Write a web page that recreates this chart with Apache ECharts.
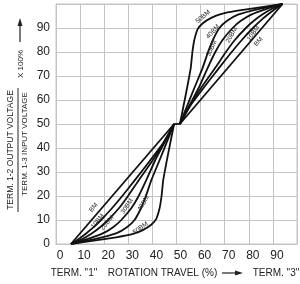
<!DOCTYPE html>
<html><head><meta charset="utf-8">
<script src="https://cdn.jsdelivr.net/npm/echarts@6/dist/echarts.min.js"></script>
<style>html,body{margin:0;padding:0;background:#fff}#c{width:300px;height:284px}</style>
</head><body><div id="c"></div>
<script>
// Taper names
const tapers = ['BM', '10BM', '20BM', '30BM', '40BM', '50BM'];
// Lower half (term 1 side) curves: [rotation %, output %]
const lowBM   = [[6.2,0],[49,50]];
const low10BM = [[6.2,0],[9.3,2],[12.5,4.4],[15.6,7],[18.7,10],[23.3,15],[27.5,20],[32.8,26.7],[39.2,35],[44.4,42],[49,50]];
const low20BM = [[6.2,0],[10.8,2],[14.8,4.4],[18.3,7],[21.6,10],[26.2,15],[29.9,20],[34.4,26.7],[40.2,35],[44.7,42],[49,50]];
const low30BM = [[6.2,0],[13,2],[19.4,4.4],[23.7,7],[27.1,10],[31.3,15],[34.3,20],[37.5,26.7],[41.2,35],[44.9,42],[49,50]];
const low40BM = [[6.2,0],[16,2],[24.9,4.4],[29.4,7],[32.6,10],[35.3,15],[37.3,20],[39.6,26.7],[43,35],[45.8,42],[49,50]];
const low50BM = [[6.2,0],[15,1.3],[25,2.8],[32,4.2],[36,5.8],[39.5,8],[41.6,10.5],[43,15],[43.8,20],[44.5,26.7],[46.6,38],[49,50]];
// Centre flat
const centre = [[49,50],[51.4,50]];
// Upper half (term 3 side) curves
const upBM   = [[51.4,50],[94,100]];
const up10BM = [[51.4,50],[56,58],[61.2,65],[67.6,73.3],[72.9,80],[77.1,85],[81.7,90],[84.8,93],[87.9,95.6],[91.1,98],[94,100]];
const up20BM = [[51.4,50],[55.7,58],[60.2,65],[66,73.3],[70.5,80],[74.2,85],[78.8,90],[82.1,93],[85.6,95.6],[89.6,98],[94,100]];
const up30BM = [[51.4,50],[55.5,58],[59.2,65],[62.9,73.3],[66.1,80],[69.1,85],[73.3,90],[76.7,93],[81,95.6],[87.4,98],[94,100]];
const up40BM = [[51.4,50],[54.6,58],[57.4,65],[60.8,73.3],[63.1,80],[65.1,85],[67.8,90],[71,93],[75.5,95.6],[84.4,98],[94,100]];
const up50BM = [[51.4,50],[53.8,62],[55.9,73.3],[56.6,80],[57.4,85],[58.8,89.5],[60.9,92],[64.4,94.2],[68.4,95.8],[75.4,97.2],[85.4,98.7],[94,100]];
// Tick labels
const xTickLabels = ['0','10','20','30','40','50','60','70','80','90'];
const yTickLabels = ['0','10','20','30','40','50','60','70','80','90'];
// Curve label anchor points (data coords)
const lowLabelPos = [[15.6,15.2],[17.3,9.5],[21.2,8.8],[29.5,15.7],[36.3,17],[35,6.6]];
const upLabelPos  = [[84,84.3],[81.9,87.8],[72.9,87.1],[64.6,81.5],[65.1,88.5],[61,94.7]];

const lowSets = [lowBM, low10BM, low20BM, low30BM, low40BM, low50BM];
const upSets = [upBM, up10BM, up20BM, up30BM, up40BM, up50BM];
const lowAngle = [49, 50, 50, 55, 60, 35];
const upAngle = [49, 55, 60, 65, 48, 40];

const FONT = '"Liberation Sans", Arial, Helvetica, sans-serif';
const GRID = '#c4c4c4';
const chart = echarts.init(document.getElementById('c'), null, {renderer: 'canvas'});

const series = [];
const lineStyle = {color: '#111', width: 1.8, join: 'round'};
const mk = (d, name) => ({type: 'line', name, data: d, smooth: 0.15, showSymbol: false, symbol: 'none', lineStyle, silent: true});
lowSets.forEach((d, i) => series.push(mk(d, tapers[i] + ' low')));
upSets.forEach((d, i) => series.push(mk(d, tapers[i] + ' up')));
series.push({type: 'line', data: centre, symbol: 'none', lineStyle, silent: true});

chart.setOption({
  animation: false,
  backgroundColor: '#fff',
  grid: {left: 56, top: 4, width: 241, height: 240, show: true, borderColor: GRID, borderWidth: 1},
  xAxis: {
    type: 'value', min: 0, max: 100, interval: 10,
    axisLine: {show: true, lineStyle: {color: GRID}},
    axisTick: {show: false},
    splitLine: {show: true, lineStyle: {color: GRID, width: 1}},
    axisLabel: {
      showMaxLabel: false, margin: 6, color: '#222', fontFamily: FONT, fontSize: 12,
      padding: [0, 0, 0, 8],
      formatter: v => xTickLabels[Math.round(v / 10)] ?? ''
    }
  },
  yAxis: {
    type: 'value', min: 0, max: 100, interval: 10,
    axisLine: {show: true, lineStyle: {color: GRID}},
    axisTick: {show: false},
    splitLine: {show: true, lineStyle: {color: GRID, width: 1}},
    axisLabel: {
      showMaxLabel: false, margin: 6, color: '#222', fontFamily: FONT, fontSize: 12,
      padding: [0, 0, 8, 0],
      formatter: v => yTickLabels[Math.round(v / 10)] ?? ''
    }
  },
  series
});

const g = [];
function lbl(pos, text, ang) {
  const p = chart.convertToPixel({gridIndex: 0}, pos);
  g.push({type: 'text', x: p[0], y: p[1], rotation: ang * Math.PI / 180, z: 10,
    style: {text, font: '6.5px ' + FONT, fill: '#222', align: 'center', verticalAlign: 'middle', textAlign: 'center', textVerticalAlign: 'middle'}});
}
tapers.forEach((t, i) => { lbl(lowLabelPos[i], t, lowAngle[i]); lbl(upLabelPos[i], t, upAngle[i]); });

function txt(x, y, text, size, rot) {
  g.push({type: 'text', x, y, rotation: rot || 0,
    style: {text, font: size + 'px ' + FONT, fill: '#222', align: 'center', verticalAlign: 'middle', textAlign: 'center', textVerticalAlign: 'middle'}});
}
// X title
txt(74, 273, 'TERM. "1"', 10);
txt(162.5, 273, 'ROTATION TRAVEL (%)', 10);
txt(276, 273, 'TERM. "3"', 10);
g.push({type: 'line', shape: {x1: 222, y1: 273, x2: 236, y2: 273}, style: {stroke: '#222', lineWidth: 1.2}});
g.push({type: 'polygon', shape: {points: [[235, 270.5], [243, 273], [235, 275.5]]}, style: {fill: '#222'}});
// Y title
txt(11, 150, 'TERM. 1-2 OUTPUT VOLTAGE', 8.5, Math.PI / 2);
g.push({type: 'line', shape: {x1: 18, y1: 88, x2: 18, y2: 212}, style: {stroke: '#222', lineWidth: 1}});
txt(25, 144, 'TERM. 1-3 INPUT VOLTAGE', 8, Math.PI / 2);
txt(21, 64, 'X 100%', 8, Math.PI / 2);
g.push({type: 'line', shape: {x1: 20, y1: 42, x2: 20, y2: 25}, style: {stroke: '#222', lineWidth: 1.2}});
g.push({type: 'polygon', shape: {points: [[17.5, 26], [20, 18], [22.5, 26]]}, style: {fill: '#222'}});

chart.setOption({graphic: g});
</script></body></html>
